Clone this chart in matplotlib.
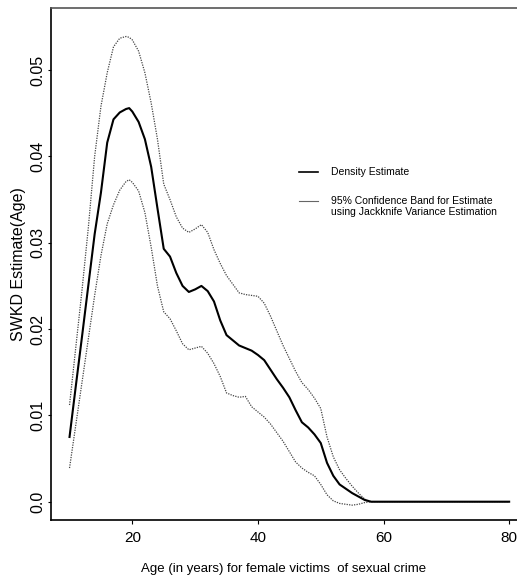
import matplotlib
matplotlib.use("Agg")
import matplotlib.pyplot as plt
from matplotlib.lines import Line2D

NARROW = ["Liberation Sans Narrow", "Liberation Sans", "DejaVu Sans"]
REG = ["Liberation Sans", "DejaVu Sans"]

# age grid (years) shared by the three curves
age = [10, 11, 12, 13, 14, 15, 16, 17, 18, 19, 19.5, 20, 21, 22, 23, 24, 25, 26, 27, 28,
       29, 30, 31, 32, 33, 34, 35, 36, 37, 38, 39, 40, 41, 42, 43, 44, 45, 46, 47, 48,
       49, 50, 51, 52, 53, 54, 55, 56, 57, 58, 60, 70, 80]

density = [0.0075, 0.0134, 0.0192, 0.0251, 0.0310, 0.0358, 0.0416, 0.0443, 0.0451, 0.0455,
           0.0456, 0.0452, 0.0440, 0.0420, 0.0388, 0.0340, 0.0293, 0.0284, 0.0265, 0.0250,
           0.0243, 0.0246, 0.0250, 0.0244, 0.0232, 0.0210, 0.0193, 0.0187, 0.0181, 0.0178,
           0.0175, 0.0170, 0.0164, 0.0153, 0.0142, 0.0132, 0.0121, 0.0106, 0.0092, 0.0086,
           0.0078, 0.0068, 0.0045, 0.0030, 0.0020, 0.0015, 0.0010, 0.0006, 0.0002, 0.0,
           0.0, 0.0, 0.0]

upper = [0.0112, 0.0179, 0.0246, 0.0318, 0.0400, 0.0458, 0.0497, 0.0527, 0.0537, 0.0539,
         0.0538, 0.0535, 0.0522, 0.0497, 0.0462, 0.0420, 0.0368, 0.0350, 0.0330, 0.0317,
         0.0312, 0.0316, 0.0321, 0.0312, 0.0292, 0.0276, 0.0262, 0.0252, 0.0242, 0.0240,
         0.0239, 0.0238, 0.0230, 0.0215, 0.0198, 0.0181, 0.0166, 0.0151, 0.0138, 0.0130,
         0.0120, 0.0108, 0.0075, 0.0052, 0.0037, 0.0027, 0.0018, 0.0010, 0.0003, 0.0,
         0.0, 0.0, 0.0]

lower = [0.0039, 0.0089, 0.0139, 0.0189, 0.0239, 0.0285, 0.0322, 0.0344, 0.0361, 0.0371,
         0.0373, 0.0370, 0.0360, 0.0335, 0.0295, 0.0250, 0.0220, 0.0212, 0.0198, 0.0183,
         0.0176, 0.0178, 0.0180, 0.0172, 0.0160, 0.0145, 0.0126, 0.0123, 0.0121, 0.0122,
         0.0110, 0.0104, 0.0098, 0.0090, 0.0080, 0.0070, 0.0058, 0.0046, 0.0039, 0.0034,
         0.0030, 0.0020, 0.0008, 0.0001, -0.0002, -0.0003, -0.0004, -0.0003, -0.0001, 0.0,
         0.0, 0.0, 0.0]

xticks = [20, 40, 60, 80]
yticks = [0.0, 0.01, 0.02, 0.03, 0.04, 0.05]
ytick_labels = ["0.0", "0.01", "0.02", "0.03", "0.04", "0.05"]

fig = plt.figure(figsize=(5.17, 5.80), dpi=100)
ax = fig.add_axes([51 / 517, 60 / 580, 466 / 517, 512 / 580])

ax.plot(age, upper, ls=(0, (1, 1)), color="#444444", lw=0.9)
ax.plot(age, lower, ls=(0, (1, 1)), color="#444444", lw=0.9)
ax.plot(age, density, "-", color="black", lw=1.5)

ax.set_xlim(7.05, 81.25)
ax.set_ylim(-0.00212, 0.0572)
ax.spines["right"].set_visible(False)
for s in ("left", "bottom", "top"):
    ax.spines[s].set_linewidth(1.2)
ax.spines["top"].set_color("#555555")

ax.set_xticks(xticks)
ax.set_xticklabels([str(t) for t in xticks], family=NARROW, fontsize=11)
ax.set_yticks(yticks)
ax.set_yticklabels(ytick_labels, family=REG, fontsize=11.5, rotation=90, va="center")
ax.tick_params(axis="x", direction="out", length=3, width=0.8, pad=5)
ax.tick_params(axis="y", direction="out", length=2, width=0.8, pad=2)

ax.set_ylabel("SWKD Estimate(Age)", family=REG, fontsize=11.5, labelpad=3)
ax.set_xlabel("Age (in years) for female victims  of sexual crime", family=NARROW,
              fontsize=9.5, labelpad=13)

# legend drawn by hand to match the original layout
lx0, lx1 = (299 - 51) / 466, (318 - 51) / 466
tx = (331 - 51) / 466
def fy(py):
    return (520 - py) / 512
ax.add_line(Line2D([lx0, lx1], [fy(172), fy(172)], transform=ax.transAxes,
                   color="black", lw=1.2))
ax.add_line(Line2D([lx0, lx1], [fy(201), fy(201)], transform=ax.transAxes,
                   color="#666666", lw=0.8))
ax.text(tx, fy(172), "Density Estimate", transform=ax.transAxes, family=NARROW,
        fontsize=7.5, va="center", ha="left")
ax.text(tx, fy(201), "95% Confidence Band for Estimate", transform=ax.transAxes,
        family=NARROW, fontsize=7.5, va="center", ha="left")
ax.text(tx, fy(212), "using Jackknife Variance Estimation", transform=ax.transAxes,
        family=NARROW, fontsize=7.5, va="center", ha="left")

fig.savefig("out.png", dpi=100)
